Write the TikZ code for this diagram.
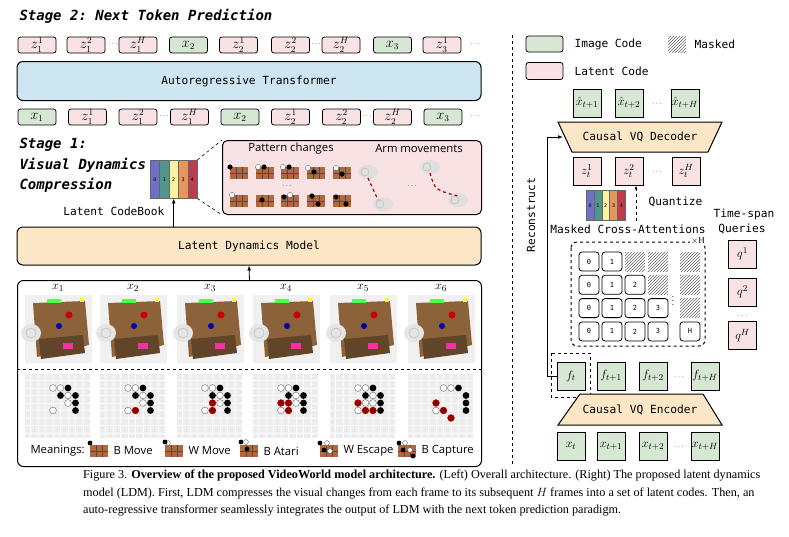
\documentclass[tikz,border=0pt]{standalone}
\usepackage{fontspec}
\setmainfont{Liberation Serif}
\setmonofont{DejaVu Sans Mono}
\newfontfamily\sansf{Open Sans}
\usetikzlibrary{patterns,arrows.meta}
\definecolor{gc}{RGB}{214,232,212}
\definecolor{pc}{RGB}{248,226,228}
\definecolor{bc}{RGB}{206,230,242}
\definecolor{oc}{RGB}{251,231,198}
\definecolor{brn}{RGB}{178,104,60}
\definecolor{wood}{RGB}{140,98,58}
\definecolor{cb1}{RGB}{112,112,200}
\definecolor{cb2}{RGB}{80,150,140}
\definecolor{cb3}{RGB}{250,242,160}
\definecolor{cb4}{RGB}{230,150,90}
\definecolor{cb5}{RGB}{190,60,75}
\tikzset{
 tk/.style={draw,line width=0.8pt,rounded corners=2.5pt,minimum width=38pt,minimum height=16pt,inner sep=0pt,font=\fontsize{13.5}{15}\selectfont},
 lat/.style={tk,fill=pc}, img/.style={tk,fill=gc},
 sq/.style={draw,line width=0.9pt,minimum width=28pt,minimum height=28pt,inner sep=0pt,font=\fontsize{13}{15}\selectfont},
 sqg/.style={sq,fill=gc}, sqp/.style={sq,fill=pc},
 cell/.style={draw,line width=0.8pt,rounded corners=3pt,minimum width=20pt,minimum height=19pt,inner sep=0pt,font=\ttfamily\scriptsize},
 hat/.style={pattern=north east lines,pattern color=gray!80!black,minimum width=20pt,minimum height=19pt,inner sep=0pt},
 big/.style={draw,line width=1pt,rounded corners=6pt},
 mono/.style={font=\ttfamily\fontsize{11.2}{13}\selectfont},
 stage/.style={font=\ttfamily\bfseries\itshape\fontsize{14}{16}\selectfont,anchor=west},
 sns/.style={font=\sansf\fontsize{11.3}{13}\selectfont},
 ws/.style={fill=white,draw=black!60,line width=0.4pt},
 bs/.style={fill=black},
 rs/.style={fill=red!55!black,draw=red!70!black,line width=0.4pt},
 dots/.style={font=\scriptsize,inner sep=0pt},
}
\newcommand\stone[3]{\path[#3] (5.5+7.5*#1,7.5*#2) circle (3.4);}
\newcommand\boardbg{\fill[gray!15] (0,0) rectangle (65,65);
 \foreach \k in {0,...,8}{\draw[white,line width=0.6pt] (5.5+7.5*\k,0) -- (5.5+7.5*\k,65); \draw[white,line width=0.6pt] (0,7.5*\k) -- (65,7.5*\k);}}
\newcommand\basest{\stone{3}{2}{ws}\stone{4}{2}{ws}\stone{5}{2}{bs}\stone{4}{3}{bs}\stone{5}{3}{ws}\stone{6}{3}{bs}\stone{5}{4}{ws}\stone{6}{4}{bs}\stone{6}{5}{bs}\stone{3}{5}{ws}}
\newcommand\photo{\fill[gray!12] (0,0) rectangle (67,68);
 \fill[wood] (8,8) -- (60,6) -- (64,50) -- (12,62) -- cycle;
 \fill[wood!70!black] (14,44) -- (58,40) -- (60,58) -- (16,64) -- cycle;
 \fill[green!70] (22,4) rectangle (36,8); \fill[yellow!80] (55,3) rectangle (59,7);
 \fill[red!80!black] (44,20) circle (3.5); \fill[blue!70!black] (34,31) circle (3);
 \fill[magenta!80] (38,48) rectangle (48,54);
 \fill[gray!20] (6,38) ellipse (10 and 9); \draw[gray!60] (6,38) circle (5);}
\newcommand\icon{\fill[brn] (0,0) rectangle (18,12);
 \foreach \k in {6,12}{\draw[black!70,line width=0.4pt] (\k,0)--(\k,12);} \draw[black!70,line width=0.4pt] (0,6)--(18,6);}
\begin{document}
\begin{tikzpicture}[x=1pt,y=-1pt]
\useasboundingbox (0,0) rectangle (789,536);
% ---------- Stage 2
\node[stage] (s2) at (16,16) {Stage 2: Next Token Prediction};
\foreach \c/\t/\l [count=\i] in {37/lat/z_1^1,86/lat/z_1^2,138/lat/z_1^H,188.5/img/x_2,238.5/lat/z_2^1,290.5/lat/z_2^2,341/lat/z_2^H,392.5/img/x_3,442/lat/z_3^1}
 \node[\t] (u\i) at (\c,45) {$\l$};
\foreach \x in {113,316,475} \node[dots] (ud\x) at (\x,44) {$\cdots$};
\node[big,fill=bc,minimum width=464pt,minimum height=39pt,mono] (ar) at (249,81) {Autoregressive Transformer};
\foreach \c/\t/\l [count=\i] in {37/img/x_1,87.5/lat/z_1^1,138/lat/z_1^2,189.5/lat/z_1^H,240/img/x_2,290.5/lat/z_2^1,341.5/lat/z_2^2,392.5/lat/z_2^H,443/img/x_3}
 \node[\t] (b\i) at (\c,117) {$\l$};
\foreach \x in {164,367,475} \node[dots] (bd\x) at (\x,116) {$\cdots$};
% ---------- Stage 1
\node[stage] (s1a) at (16,145) {Stage 1:};
\node[stage] (s1b) at (16,165) {Visual Dynamics};
\node[stage] (s1c) at (16,185) {Compression};
\foreach \cc [count=\i] in {cb1,cb2,cb3,cb4,cb5}{
 \pgfmathsetmacro\xx{150+9.4*(\i-1)}
 \node[draw=black!60,fill=\cc,minimum width=9.4pt,minimum height=38pt,inner sep=0pt,anchor=north west,font=\ttfamily\tiny] (cb\i) at (\xx,160) {\the\numexpr\i-1\relax};}
\node[big,fill=pc,rounded corners=5pt,minimum width=259pt,minimum height=74pt,anchor=north west] (pat) at (222,140) {};
\draw[dashed,line width=0.6pt] (cb5.north east) -- (pat.north west);
\draw[dashed,line width=0.6pt] (cb5.south east) -- (pat.south west);
\node[sns] (pc1) at (291,149) {Pattern changes};
\node[sns] (pc2) at (419,149) {Arm movements};
\foreach \x in {230,256,281,307,333}{\begin{scope}[shift={(\x,167)}]\icon\end{scope}\begin{scope}[shift={(\x,195)}]\icon\end{scope}}
\foreach \x/\y/\c in {230/167/bs,258/167/ws,264/167/bs,283/167/ws,289/167/bs,308/168/ws,314/172/bs,336/168/ws,342/174/bs,232/195/ws,262/200/bs,284/197/bs,290/195/ws,312/196/bs,318/204/bs,336/197/bs,346/204/bs}
 \path[\c] (\x,\y) circle (2.6);
\node[dots] (pd) at (287,186) {$\cdots$};
\node[dots] (ad) at (412,186) {$\cdots$};
\foreach \x/\y in {368/172,383/204,430/167,458/200}{\fill[gray!25] (\x,\y) ellipse (10 and 7); \draw[gray!60] (\x-3,\y) circle (4);}
\draw[red!70!black,dashed,line width=1.2pt] (368,178) -- (378,200);
\draw[red!70!black,dashed,line width=1.2pt] (430,173) .. controls (435,190) .. (458,196);
\node[mono,anchor=east] (lcb) at (168,211) {Latent CodeBook};
% ---------- LDM
\node[big,fill=oc,minimum width=464pt,minimum height=38pt,mono] (ldm) at (249,246) {Latent Dynamics Model};
\draw[-{Latex[length=5pt]},line width=0.8pt] (ldm.north -| cb3.south) -- (cb3.south);
\node[big,minimum width=464pt,minimum height=186pt,anchor=north west] (frames) at (17,280) {};
\draw[-{Latex[length=5pt]},line width=0.8pt] (frames.north) -- (ldm.south);
\foreach \x [count=\i] in {25,100,177,253,330,408}{
 \node[font=\fontsize{13}{15}\selectfont] (xl\i) at (\x+33,288) {$x_{\i}$};
 \begin{scope}[shift={(\x,295)}]\photo\end{scope}}
\draw[dashed,line width=1pt] (17,369) -- (481,369);
\begin{scope}[shift={(25,373)}]\boardbg\basest\end{scope}
\begin{scope}[shift={(100,373)}]\boardbg\basest\stone{4}{5}{rs}\end{scope}
\begin{scope}[shift={(177,373)}]\boardbg\basest\stone{4}{4}{rs}\stone{4}{5}{rs}\end{scope}
\begin{scope}[shift={(253,373)}]\boardbg\basest\stone{3}{4}{rs}\stone{4}{4}{rs}\stone{4}{5}{rs}\end{scope}
\begin{scope}[shift={(330,373)}]\boardbg\basest\stone{3}{4}{rs}\stone{4}{4}{ws}\stone{4}{5}{rs}\stone{5}{5}{rs}\end{scope}
\begin{scope}[shift={(408,373)}]\boardbg\stone{4}{2}{ws}\stone{5}{2}{ws}\stone{6}{2}{bs}\stone{7}{3}{bs}\stone{3}{4}{rs}\stone{7}{4}{bs}\stone{3}{5}{ws}\stone{4}{5}{rs}\stone{7}{5}{bs}\stone{5}{6}{rs}\end{scope}
\node[sns,anchor=west] (mn) at (27,451) {Meanings:};
\foreach \x/\t [count=\i] in {90/B Move,165/W Move,240/B Atari,320/W Escape,398/B Capture}{
 \begin{scope}[shift={(\x,445)}]\icon\end{scope}
 \node[sns,anchor=west] (m\i) at (\x+20,451) {\t};}
\path[bs] (90,443) circle (2.4); \path[ws] (168,443) circle (2.4); \path[bs] (165,442) circle (2.4);
\path[bs] (241,442) circle (2.4);\path[ws] (246,442) circle (2.4);\path[bs] (247,449) circle (2.4);
\path[bs] (320,443) circle (2.4);\path[ws] (327,443) circle (2.4);\path[bs] (324,450) circle (2.4);\path[ws] (330,451) circle (2.4);
\path[bs] (399,443) circle (2.4);\path[ws] (405,443) circle (2.4);\path[bs] (403,450) circle (2.4);\path[ws] (410,450) circle (2.4);\path[bs] (413,456) circle (2.4);
% ---------- separator
\draw[dashed,line width=1pt] (512,35) -- (512,466);
% ---------- legend
\node[img,minimum width=37pt,minimum height=16pt] (lg1) at (544.5,44) {};
\node[mono,anchor=west] (lg1t) at (571,44) {Image Code};
\node[hat,minimum width=18pt,minimum height=16pt] (lg2) at (677,44) {};
\node[mono,anchor=west] (lg2t) at (691,44) {Masked};
\node[lat,minimum width=37pt,minimum height=17pt] (lg3) at (544.5,71) {};
\node[mono,anchor=west] (lg3t) at (571,71) {Latent Code};
% ---------- decoder
\foreach \x/\l [count=\i] in {587/\hat{x}_{t+1},629/\hat{x}_{t+2},685/\hat{x}_{t+H}}
 \node[sqg] (xh\i) at (\x,103) {$\l$};
\node[dots] (xhd) at (657,104) {$\cdots$};
\draw[line width=1pt,fill=oc] (558,122) -- (722,122) -- (708,152) -- (572,152) -- cycle;
\node[mono] (dec) at (640,137) {Causal VQ Decoder};
\coordinate (decL) at (563,137);
\foreach \x/\l [count=\i] in {587/z_t^1,629/z_t^2,686/z_t^H}
 \node[sqp] (zt\i) at (\x,171) {$\l$};
\node[dots] (ztd) at (657,172) {$\cdots$};
\foreach \cc [count=\i] in {cb1,cb2,cb3,cb4,cb5}{
 \pgfmathsetmacro\xx{586+7.8*(\i-1)}
 \node[draw=black!60,fill=\cc,minimum width=7.8pt,minimum height=30pt,inner sep=0pt,anchor=north west,font=\ttfamily\tiny] (sc\i) at (\xx,190) {\the\numexpr\i-1\relax};}
\coordinate (qz) at (636,221);
\draw[dashed,-{Latex[length=4pt]},line width=0.7pt] (qz) -- (zt2.south -| qz);
\node[mono,anchor=west] (qzt) at (645,202) {Quantize};
\node[mono] (ts) at (744,214) {Time-span};
\node[mono] (mca) at (628,229) {Masked Cross-Attentions};
\node[mono] (qr) at (742,229) {Queries};
% ---------- attention grid
\draw[dashed,line width=1pt,rounded corners=6pt] (571,242) rectangle (705,346);
\node[font=\small,fill=white,inner sep=1pt] (xH) at (698,241) {$\times$H};
\foreach \r in {1,...,4}{
 \pgfmathsetmacro\yy{252+23.3*(\r-1)+9.5}
 \foreach \c/\xx in {1/589,2/612,3/635,4/658}{
  \ifnum\c>\numexpr\r+1\relax \node[hat] (g\r\c) at (\xx,\yy) {};
  \else \node[cell] (g\r\c) at (\xx,\yy) {\the\numexpr\c-1\relax};\fi}
 \ifnum\r<4 \node[hat] (g\r5) at (690,\yy) {}; \else \node[cell] (g\r5) at (690,\yy) {H};\fi}
\node[font=\small,inner sep=0pt] (vd) at (673,298) {$\vdots$};
\foreach \y/\l [count=\i] in {254/q^1,292/q^2,335.5/q^H}
 \node[sqp] (q\i) at (742.5,\y) {$\l$};
\node[dots] (qd) at (742.5,316) {$\cdots$};
% ---------- encoder
\foreach \x/\l [count=\i] in {571/f_t,611/f_{t+1},653/f_{t+2},705/f_{t+H}}
 \node[sqg] (f\i) at (\x,376) {$\l$};
\node[dots] (fd) at (679,377) {$\cdots$};
\draw[dashed,line width=1pt] (551,353) rectangle (590,397);
\draw[line width=1pt,fill=oc] (580,394) -- (703,394) -- (722,425) -- (558,425) -- cycle;
\node[mono] (enc) at (640,410) {Causal VQ Encoder};
\foreach \x/\l [count=\i] in {571/x_t,611/x_{t+1},653/x_{t+2},705/x_{t+H}}
 \node[sqg] (xe\i) at (\x,446) {$\l$};
\node[dots] (xed) at (679,447) {$\cdots$};
\draw[-{Latex[length=5pt]},line width=0.8pt] (f1.west) -- ++(-9,0) |- (decL);
\node[mono,rotate=90] (rec) at (531,215) {Reconstruct};
% ---------- caption
\node[anchor=west,inner sep=0pt,font=\fontsize{12.2}{14}\selectfont] (c1) at (83,476) {Figure 3. \textbf{Overview of the proposed VideoWorld model architecture.} (Left) Overall architecture. (Right) The proposed latent dynamics};
\node[anchor=west,inner sep=0pt,font=\fontsize{12.2}{14}\selectfont] (c2) at (83,494) {model (LDM). First, LDM compresses the visual changes from each frame to its subsequent $H$ frames into a set of latent codes. Then, an};
\node[anchor=west,inner sep=0pt,font=\fontsize{12.2}{14}\selectfont] (c3) at (83,511) {auto-regressive transformer seamlessly integrates the output of LDM with the next token prediction paradigm.};
\end{tikzpicture}
\end{document}
